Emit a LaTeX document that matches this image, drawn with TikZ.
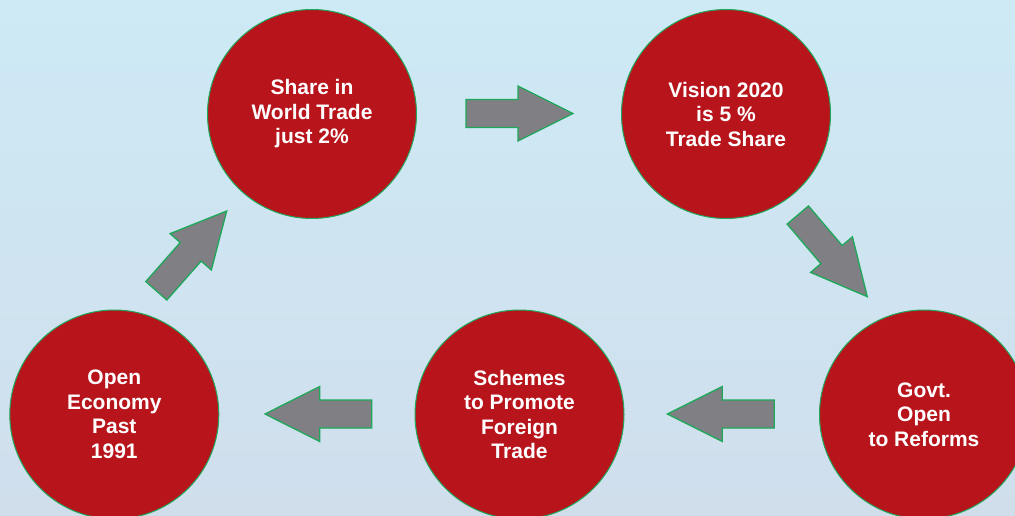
\documentclass[tikz,border=0pt]{standalone}
\usepackage{fontspec}
\setmainfont{Liberation Sans}
\usetikzlibrary{calc}
\definecolor{bgtop}{RGB}{205,234,245}
\definecolor{bgbot}{RGB}{208,222,236}
\definecolor{discred}{RGB}{183,20,27}
\definecolor{rimgreen}{RGB}{30,168,90}
\definecolor{arrgray}{RGB}{128,128,132}
\tikzset{
  disc/.style={circle, fill=discred, draw=rimgreen, line width=1pt,
    minimum size=209pt, inner sep=0pt, text=white, align=center,
    font=\bfseries\fontsize{21}{24.5}\selectfont},
  blockarr/.style={fill=arrgray, draw=rimgreen, line width=1.3pt, line join=miter}
}
\newcommand{\blockarrow}[2]{%
  \draw[blockarr]
    ($(#1)!14pt!90:(#2)$) --
    ($($(#1)!52pt!(#2)$)!14pt!90:(#2)$) --
    ($($(#1)!52pt!(#2)$)!27.5pt!90:(#2)$) --
    (#2) --
    ($($(#1)!52pt!(#2)$)!27.5pt!-90:(#2)$) --
    ($($(#1)!52pt!(#2)$)!14pt!-90:(#2)$) --
    ($(#1)!14pt!-90:(#2)$) -- cycle;}
\begin{document}
\begin{tikzpicture}[x=1pt,y=-1pt]
\path[use as bounding box, top color=bgtop, bottom color=bgbot] (0,0) rectangle (1015,516);
\begin{scope}
\clip (0,0) rectangle (1015,516);
\node[disc] (share) at (312,114) {Share in\\World Trade\\just 2\%};
\node[disc] (vision) at (726,114) {Vision 2020\\is 5 \%\\Trade Share};
\node[disc] (govt) at (924,414.5) {Govt.\\Open\\to Reforms};
\node[disc] (schemes) at (519.5,414.5) {Schemes\\to Promote\\Foreign\\Trade};
\node[disc] (open) at (114.3,414.5) {Open\\Economy\\Past\\1991};
\end{scope}
\coordinate (a1s) at (466,113.5);   \coordinate (a1e) at (573,113.5);
\coordinate (a2s) at (797.8,215);   \coordinate (a2e) at (867.3,296.7);
\coordinate (a3s) at (774.3,414);   \coordinate (a3e) at (667.3,414);
\coordinate (a4s) at (371.7,414);   \coordinate (a4e) at (265,414);
\coordinate (a5s) at (156.3,290.8); \coordinate (a5e) at (226.7,211);
\blockarrow{a1s}{a1e}
\blockarrow{a2s}{a2e}
\blockarrow{a3s}{a3e}
\blockarrow{a4s}{a4e}
\blockarrow{a5s}{a5e}
\end{tikzpicture}
\end{document}
